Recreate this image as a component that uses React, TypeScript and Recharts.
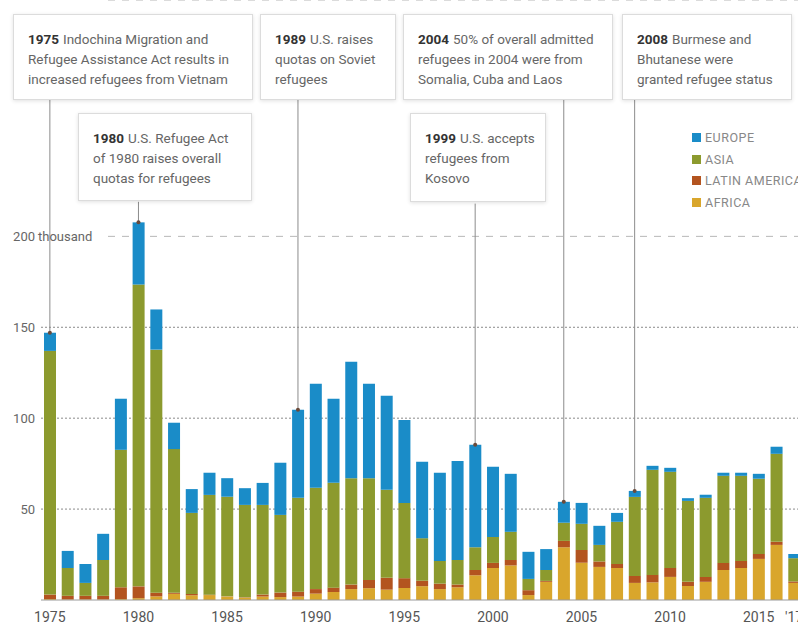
import { Bar, BarChart, CartesianGrid, ReferenceDot, ReferenceLine, XAxis, YAxis } from "recharts";

const years = [1975, 1976, 1977, 1978, 1979, 1980, 1981, 1982, 1983, 1984, 1985, 1986, 1987, 1988, 1989, 1990, 1991, 1992, 1993, 1994, 1995, 1996, 1997, 1998, 1999, 2000, 2001, 2002, 2003, 2004, 2005, 2006, 2007, 2008, 2009, 2010, 2011, 2012, 2013, 2014, 2015, 2016, 2017];
// thousands of refugees admitted, by region
const africa = [0.5, 0.3, 0.3, 0.3, 0.5, 1, 2, 3.4, 2.6, 2.7, 1.9, 1.3, 1.9, 1.6, 1.9, 3.5, 4.4, 6, 6.5, 5.7, 6.6, 7.6, 6, 7, 13.6, 17.6, 19, 2.7, 10, 29, 20.5, 18.2, 17.6, 9.4, 9.7, 12.7, 7.7, 10, 16.5, 17.6, 22.6, 30.3, 9.4];
const latinAmerica = [2.5, 2, 2, 2, 6.5, 6.5, 2, 0.6, 0.7, 0.2, 0.1, 0.2, 1.1, 2.5, 2.7, 2.5, 2.4, 2.5, 4.5, 6.5, 5.4, 3, 3, 1.5, 2.9, 2.8, 3, 2.7, 0.5, 3.5, 7, 3, 2.2, 3.8, 4.1, 4.9, 2.3, 2.7, 3.9, 3.9, 2.7, 1.7, 0.8];
const asia = [134, 15.3, 7.1, 19.7, 75.6, 166, 133.7, 79, 44.6, 54.9, 54.8, 50.8, 49.3, 42.7, 51.6, 55.7, 57.7, 58.5, 56, 48.4, 41.4, 23.4, 12.5, 13.5, 12.5, 14.3, 15.5, 6.2, 6, 10, 14.4, 9.1, 23.2, 43.5, 57.8, 52.9, 44.5, 43.5, 47.9, 46.8, 41.4, 48.4, 12.8];
const europe = [10, 9.4, 10.4, 14.4, 28.1, 34.2, 22.1, 14.5, 13.1, 12.2, 10.2, 9.2, 12.1, 28.7, 48.5, 57.3, 46.2, 64, 52, 51.8, 45.6, 42, 48.5, 54.5, 56.4, 38.6, 31.9, 14.9, 11.5, 11.5, 11.5, 10.5, 4.9, 3.3, 2.2, 2.2, 1.5, 1.7, 1.7, 1.7, 2.7, 3.9, 2.3];
const yTicks = [0, 50, 100, 150, 200];

const regions = [
  { key: "europe", label: "EUROPE", color: "#1a8cc8" },
  { key: "asia", label: "ASIA", color: "#8c9a2e" },
  { key: "latinAmerica", label: "LATIN AMERICA", color: "#b3541f" },
  { key: "africa", label: "AFRICA", color: "#d9a62c" },
];

const notes = [
  { year: 1975, lines: ["Indochina Migration and", "Refugee Assistance Act results in", "increased refugees from Vietnam"], box: { left: 13, top: 14, width: 240, height: 86 }, lineTop: 275 },
  { year: 1980, lines: ["U.S. Refugee Act", "of 1980 raises overall", "quotas for refugees"], box: { left: 78, top: 113, width: 174, height: 88 }, lineTop: 219 },
  { year: 1989, lines: ["U.S. raises", "quotas on Soviet", "refugees"], box: { left: 260, top: 14, width: 136, height: 86 }, lineTop: 275 },
  { year: 1999, lines: ["U.S. accepts", "refugees from", "Kosovo"], box: { left: 410, top: 113, width: 136, height: 89 }, lineTop: 218 },
  { year: 2004, lines: ["50% of overall admitted", "refugees in 2004 were from", "Somalia, Cuba and Laos"], box: { left: 403, top: 14, width: 210, height: 86 }, lineTop: 275 },
  { year: 2008, lines: ["Burmese and", "Bhutanese were", "granted refugee status"], box: { left: 622, top: 14, width: 170, height: 86 }, lineTop: 275 },
];

const rows = years.map((year, i) => ({
  year,
  africa: africa[i],
  latinAmerica: latinAmerica[i],
  asia: asia[i],
  europe: europe[i],
  total: africa[i] + latinAmerica[i] + asia[i] + europe[i],
}));

const FONT = "Roboto, 'Liberation Sans', sans-serif";
const W = 803;
const H = 627;
const Y_MAX = 330;

function gridLine(p: any) {
  const { x1, x2, y1, index } = p;
  if (y1 > 595) return <g key={`g${index}`} />;
  if (y1 < 250) {
    return <line key={`g${index}`} x1={108} x2={x2} y1={y1} y2={y1} stroke="#b8b8b8" strokeDasharray="7 7" />;
  }
  return <line key={`g${index}`} x1={x1} x2={x2} y1={y1} y2={y1} stroke="#8a8a8a" strokeDasharray="2 2" />;
}

function YTick(p: any) {
  const v = p.payload.value;
  if (v === 0) return <g />;
  return (
    <g>
      <text x={35} y={p.y} dy={5} textAnchor="end" fontSize={13} fill="#666" fontFamily={FONT}>{v}</text>
      {v === 200 && <text x={38} y={p.y} dy={5} textAnchor="start" fontSize={13} fill="#666" fontFamily={FONT}>thousand</text>}
    </g>
  );
}

function XTick(p: any) {
  const v = p.payload.value;
  let label = "";
  if (v === 2017) label = "'17";
  else if (v % 5 === 0) label = String(v);
  if (!label) return <g />;
  return <text x={p.x} y={622} textAnchor="middle" fontSize={14} fill="#555" fontFamily={FONT}>{label}</text>;
}

export default function App() {
  return (
    <div style={{ position: "absolute", left: 0, top: 0, width: 798, height: 627, overflow: "hidden", background: "#fff", fontFamily: FONT }}>
      <BarChart width={W} height={H} data={rows} margin={{ top: 0, right: 0, bottom: 0, left: 0 }} barSize={12}>
        <CartesianGrid vertical={false} horizontal={gridLine} />
        <XAxis dataKey="year" height={27} interval={0} tick={<XTick />} tickLine={false} axisLine={{ stroke: "#9a9a9a" }} />
        <YAxis width={41} domain={[0, Y_MAX]} ticks={yTicks} tick={<YTick />} tickLine={false} axisLine={false} />
        <Bar dataKey="africa" stackId="a" fill="#d9a62c" isAnimationActive={false} />
        <Bar dataKey="latinAmerica" stackId="a" fill="#b3541f" isAnimationActive={false} />
        <Bar dataKey="asia" stackId="a" fill="#8c9a2e" isAnimationActive={false} />
        <Bar dataKey="europe" stackId="a" fill="#1a8cc8" isAnimationActive={false} />
        {notes.map((n) => {
          const total = rows.find((r) => r.year === n.year)!.total;
          return (
            <ReferenceLine
              key={`l${n.year}`}
              segment={[{ x: n.year, y: total }, { x: n.year, y: n.lineTop }]}
              stroke="#8c8c8c"
              strokeWidth={1}
            />
          );
        })}
        {notes.map((n) => {
          const total = rows.find((r) => r.year === n.year)!.total;
          return <ReferenceDot key={`d${n.year}`} x={n.year} y={total} r={2} fill="#6b4a3a" stroke="none" />;
        })}
      </BarChart>

      {notes.map((n) => (
        <div
          key={`b${n.year}`}
          style={{
            position: "absolute",
            left: n.box.left,
            top: n.box.top,
            width: n.box.width,
            height: n.box.height,
            boxSizing: "border-box",
            background: "#fff",
            border: "1px solid #dcdcdc",
            boxShadow: "0 1px 4px rgba(0,0,0,0.12)",
            padding: "14px 0 0 14px",
            fontSize: 13.5,
            lineHeight: "20px",
            color: "#666",
            whiteSpace: "nowrap",
          }}
        >
          {n.lines.map((line, i) => (
            <div key={i}>
              {i === 0 && <b style={{ color: "#333", marginRight: 4 }}>{n.year}</b>}
              {line}
            </div>
          ))}
        </div>
      ))}

      <div style={{ position: "absolute", left: 692, top: 127, width: 140 }}>
        {regions.map((r) => (
          <div key={r.key} style={{ display: "flex", alignItems: "center", height: 21.5, fontSize: 12.5, letterSpacing: 0.5, color: "#888", whiteSpace: "nowrap" }}>
            <span style={{ display: "inline-block", width: 9, height: 9, background: r.color, marginRight: 4 }} />
            {r.label}
          </div>
        ))}
      </div>
    </div>
  );
}
